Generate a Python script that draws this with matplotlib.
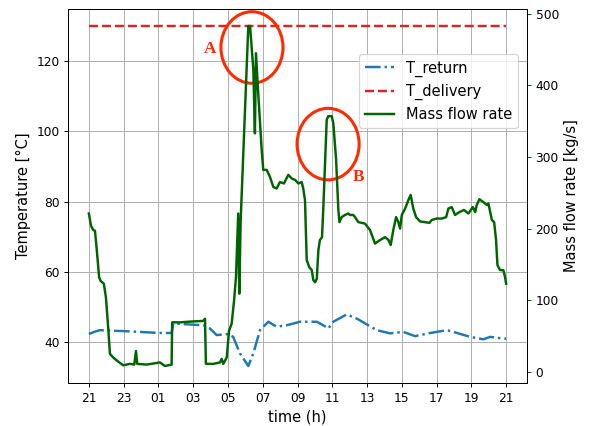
import matplotlib
matplotlib.use("Agg")
import matplotlib.pyplot as plt
from matplotlib.patches import Ellipse
import numpy as np

# hours after 21:00
flow_hours = [0.00, 0.12, 0.25, 0.35, 0.44, 0.59, 0.67, 0.86, 0.98, 1.11, 1.21, 1.40, 1.59, 1.97,
              2.36, 2.61, 2.71, 2.78, 3.32, 4.09, 4.37, 4.76, 4.79, 5.24, 5.81, 6.58, 6.68, 6.73,
              7.15, 7.54, 7.64, 7.73, 7.93, 8.06, 8.21, 8.35, 8.46, 8.59, 8.65, 8.73, 9.17, 9.27,
              9.46, 9.55, 9.61, 9.74, 9.94, 10.03, 10.23, 10.42, 10.61, 10.80, 10.99, 11.22, 11.47,
              11.67, 11.86, 12.05, 12.24, 12.33, 12.43, 12.53, 12.68, 12.82, 12.91, 13.01, 13.11,
              13.20, 13.29, 13.41, 13.48, 13.68, 13.77, 13.97, 14.06, 14.22, 14.35, 14.41, 14.54,
              14.73, 14.92, 15.02, 15.21, 15.31, 15.50, 15.88, 16.17, 16.46, 16.75, 17.04, 17.23,
              17.36, 17.51, 17.67, 17.80, 17.90, 18.00, 18.19, 18.38, 18.51, 18.66, 18.82, 19.05,
              19.34, 19.59, 19.72, 20.01, 20.30, 20.55, 20.68, 20.87, 21.06, 21.31, 21.58, 21.83,
              22.08, 22.22, 22.31, 22.46, 22.69, 22.89, 22.98, 23.18, 23.31, 23.42, 23.50, 23.65,
              23.84, 23.94, 24.00]
mass_flow = [221, 204, 198, 197, 174, 132, 127, 123, 104, 62, 25, 20, 16, 9,
             11, 10, 29, 11, 10, 13, 8, 10, 69, 69, 70, 71, 74, 11,
             11, 13, 18, 11, 20, 57, 67, 99, 132, 221, 109, 211, 483, 483,
             422, 333, 445, 389, 310, 282, 282, 272, 258, 256, 265, 263, 275,
             270, 268, 263, 265, 256, 240, 156, 146, 142, 128, 125, 130,
             170, 184, 188, 226, 352, 357, 357, 347, 296, 226, 209, 216,
             219, 221, 219, 219, 216, 209, 207, 198, 179, 184, 188, 184,
             177, 198, 216, 209, 200, 219, 228, 240, 247, 228, 216, 210,
             209, 208, 212, 214, 214, 216, 228, 230, 219, 223, 226, 221,
             230, 223, 233, 241, 237, 233, 235, 212, 209, 184, 149, 142,
             142, 132, 123]

ret_hours = [0.00, 0.35, 0.63, 2.17, 4.09, 4.76, 4.85, 6.58, 6.96, 7.35, 8.02, 8.30, 8.69, 9.17,
             9.46, 9.84, 10.32, 10.80, 11.38, 12.14, 12.72, 13.11, 13.48, 13.77, 14.06, 14.83,
             15.41, 16.56, 17.32, 18.09, 18.76, 19.63, 20.59, 20.97, 21.93, 22.69, 23.08, 23.84, 24.00]
t_return = [42.3, 43.0, 43.4, 43.1, 42.6, 42.6, 45.3, 44.8, 43.9, 42.0, 42.3, 41.5, 36.8, 33.2,
            36.8, 43.4, 45.8, 44.4, 44.8, 45.8, 45.8, 45.8, 44.8, 43.9, 45.8, 47.9,
            46.7, 43.4, 42.5, 42.9, 41.7, 42.6, 43.4, 42.9, 41.5, 40.8, 41.5, 41.0, 41.0]

deliv_hours = [0.0, 24.0]
t_delivery = [130.0, 130.0]

tick_hours = list(range(0, 25, 2))
tick_labels = ["%02d" % ((21 + h) % 24) for h in tick_hours]

fig = plt.figure(figsize=(593 / 88, 426 / 88), dpi=88)
ax = fig.add_axes([0.1147, 0.1009, 0.774, 0.878])
ax2 = ax.twinx()

l1, = ax.plot(ret_hours, t_return, color="tab:blue", ls="-.", lw=2, label="T_return")
l2, = ax.plot(deliv_hours, t_delivery, color="tab:red", ls="--", lw=2, label="T_delivery")
l3, = ax2.plot(flow_hours, mass_flow, color="darkgreen", lw=2, label="Mass flow rate")

ax.grid(True)
ax.set_xticks(tick_hours)
ax.set_xticklabels(tick_labels)
ax.set_xlabel("time (h)", fontsize=12)
ax.set_ylabel("Temperature [°C]", fontsize=12)
ax2.set_ylabel("Mass flow rate [kg/s]", fontsize=12)
ax2.tick_params(axis="y", color="darkgreen")

# highlighted peaks
red = "#ff2a00"
for cx, cy in [(9.38, 453), (13.76, 318)]:
    ax2.add_artist(Ellipse((cx, cy), 3.57, 100, fill=False, edgecolor=red, lw=2.5))
ax2.text(6.99, 451, "A", color=red, fontsize=14, fontweight="bold", family="Liberation Serif",
         ha="center", va="center")
ax2.text(15.51, 272, "B", color=red, fontsize=14, fontweight="bold", family="Liberation Serif",
         ha="center", va="center")

ax2.legend(handles=[l1, l2, l3], loc="upper right", bbox_to_anchor=(0.997, 0.898), fontsize=12)

fig.savefig("out.png", dpi=88)
